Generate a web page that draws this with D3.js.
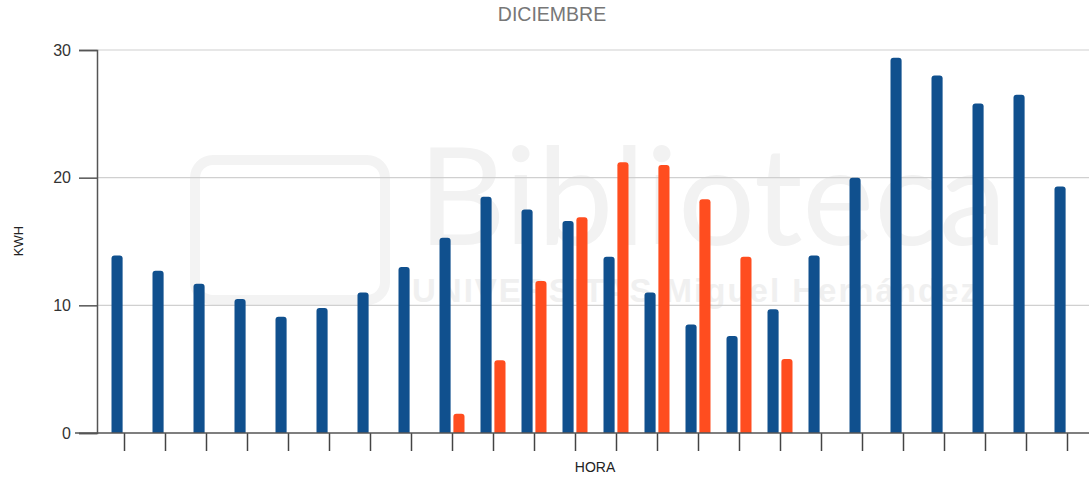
<!DOCTYPE html>
<html>
<head>
<meta charset="utf-8">
<script src="https://cdn.jsdelivr.net/npm/d3@7"></script>
<style>
  body { margin: 0; background: #fff; }
  svg { display: block; font-family: "Liberation Sans", Arial, sans-serif; }
</style>
</head>
<body>
<div id="chart"></div>
<script>
// hours of the day
var horas = d3.range(0, 24).map(String);

// consumo (blue) per hour
var consumo = [13.9, 12.7, 11.7, 10.5, 9.1, 9.8, 11.0, 13.0, 15.3, 18.5, 17.5, 16.6,
               13.8, 11.0, 8.5, 7.6, 9.7, 13.9, 20.0, 29.4, 28.0, 25.8, 26.5, 19.3];

// generacion (orange) per hour, null where nothing
var generacion = [null, null, null, null, null, null, null, null, 1.5, 5.7, 11.9, 16.9,
                  21.2, 21.0, 18.3, 13.8, 5.8, null, null, null, null, null, null, null];

var series = ["consumo", "generacion"];
var colores = { consumo: "#10508e", generacion: "#ff4d1f" };
var yTicks = [0, 10, 20, 30];

var width = 1089, height = 487;
var svg = d3.select("#chart").append("svg")
    .attr("width", width)
    .attr("height", height);

var x = d3.scaleBand().domain(horas).range([104, 1088]).padding(0);
var x1 = d3.scaleBand().domain(series).range([-13, 12]).paddingInner(0.2);
var y = d3.scaleLinear().domain([0, 30]).range([433, 50]);

// faint watermark behind the plot
var wm = svg.append("g").attr("fill", "#f2f2f2");
wm.append("text")
    .attr("x", 418).attr("y", 245)
    .style("font-size", "136px")
    .style("font-family", "Lato, sans-serif")
    .text("Biblioteca");
wm.append("text")
    .attr("x", 412).attr("y", 302)
    .style("font-size", "33px")
    .style("font-weight", "bold")
    .style("letter-spacing", "2px")
    .attr("fill", "#f0f0f0")
    .text("UNIVERSITAS Miguel Hernández");
wm.append("rect")
    .attr("x", 195).attr("y", 160).attr("width", 190).attr("height", 140)
    .attr("rx", 18)
    .attr("fill", "none").attr("stroke", "#f3f3f3").attr("stroke-width", 10);

// gridlines
svg.append("g")
    .selectAll("line")
    .data(yTicks.filter(function(d){ return d > 0; }))
    .enter().append("line")
    .attr("x1", 97).attr("x2", width)
    .attr("y1", function(d){ return y(d); })
    .attr("y2", function(d){ return y(d); })
    .attr("stroke", "#d0d0d0")
    .attr("stroke-width", 1.2);

// rounded top bar path
function barPath(x0, w, y0, yb){
    var r = Math.min(3, w / 2, (yb - y0) / 2);
    return "M" + x0 + "," + yb +
        "V" + (y0 + r) +
        "Q" + x0 + "," + y0 + " " + (x0 + r) + "," + y0 +
        "H" + (x0 + w - r) +
        "Q" + (x0 + w) + "," + y0 + " " + (x0 + w) + "," + (y0 + r) +
        "V" + yb + "Z";
}

var barData = [];
horas.forEach(function(h, i){
    barData.push({ hora: h, serie: "consumo", valor: consumo[i] });
    if (generacion[i] != null) barData.push({ hora: h, serie: "generacion", valor: generacion[i] });
});

svg.append("g")
    .selectAll("path")
    .data(barData)
    .enter().append("path")
    .attr("d", function(d){
        var cx = x(d.hora) + x.bandwidth() / 2;
        return barPath(cx + x1(d.serie), x1.bandwidth(), y(d.valor), y(0));
    })
    .attr("fill", function(d){ return colores[d.serie]; });

// y axis
var yAxis = d3.axisLeft(y).tickValues(yTicks).tickSize(18).tickPadding(8);
var gy = svg.append("g").attr("transform", "translate(97,0)").call(yAxis);
gy.select(".domain").attr("stroke", "#555").attr("stroke-width", 1.5);
gy.selectAll(".tick line").attr("stroke", "#555").attr("stroke-width", 1.5);
gy.selectAll(".tick text")
    .style("font-size", "16px")
    .style("font-family", "Liberation Sans, Arial, sans-serif")
    .attr("fill", "#333");

// x axis
var xAxis = d3.axisBottom(x).tickSize(18).tickFormat("");
var gx = svg.append("g").attr("transform", "translate(0,433)").call(xAxis);
gx.select(".domain").remove();
gx.selectAll(".tick line").attr("stroke", "#444").attr("stroke-width", 1.5);
svg.append("line")
    .attr("x1", 75).attr("x2", width)
    .attr("y1", 433).attr("y2", 433)
    .attr("stroke", "#555").attr("stroke-width", 1.5);

// titles
svg.append("text")
    .attr("x", 552).attr("y", 21)
    .attr("text-anchor", "middle")
    .attr("fill", "#777")
    .style("font-size", "19.5px")
    .text("DICIEMBRE");

svg.append("text")
    .attr("x", 595).attr("y", 472)
    .attr("text-anchor", "middle")
    .attr("fill", "#222")
    .style("font-size", "14px")
    .text("HORA");

svg.append("text")
    .attr("transform", "translate(23,241) rotate(-90)")
    .attr("text-anchor", "middle")
    .attr("fill", "#222")
    .style("font-size", "13px")
    .text("KWH");
</script>
</body>
</html>
